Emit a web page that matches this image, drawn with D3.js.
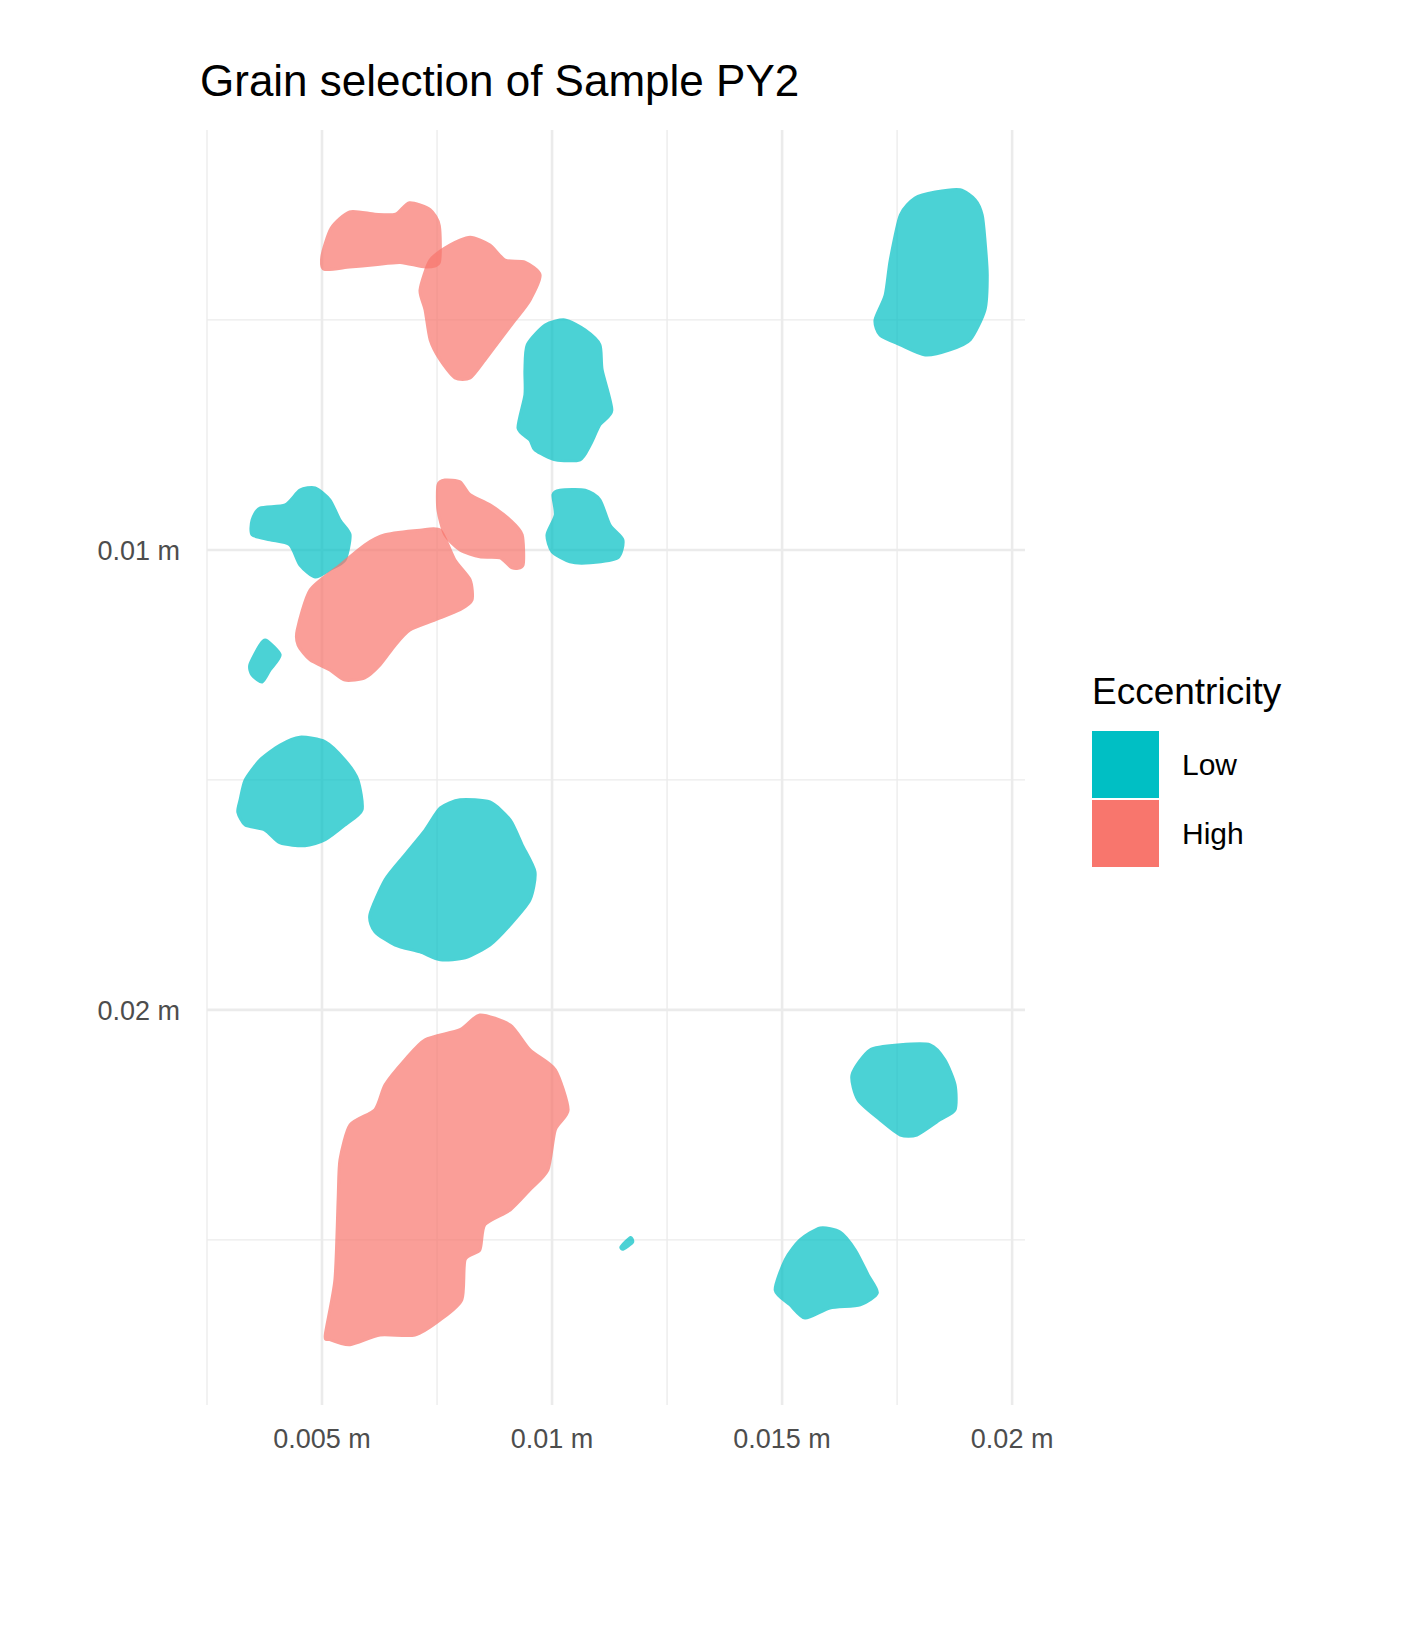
<!DOCTYPE html>
<html>
<head>
<meta charset="utf-8">
<script src="https://cdn.jsdelivr.net/npm/d3@7"></script>
<style>
  body { margin: 0; background: #fff; }
  text { font-family: "Liberation Sans", Arial, sans-serif; }
</style>
</head>
<body>
<script>
// grain outlines, coordinates in mm (x, y)
let grains = [
  { ecc: "High", pts: [[5.0,3.6],[5.2,3.0],[5.6,2.65],[6.15,2.7],[6.6,2.7],[6.9,2.45],[7.35,2.6],[7.55,2.95],[7.55,3.75],[7.25,3.85],[6.7,3.75],[6.15,3.8],[5.6,3.85],[5.05,3.9]] },
  { ecc: "High", pts: [[7.13,4.35],[7.35,3.7],[7.78,3.37],[8.22,3.2],[8.65,3.37],[8.98,3.7],[9.41,3.74],[9.74,4.02],[9.52,4.57],[9.2,5.0],[8.87,5.43],[8.54,5.87],[8.22,6.26],[7.89,6.26],[7.57,5.87],[7.35,5.43],[7.24,4.78]] },
  { ecc: "Low", pts: [[9.46,5.54],[9.85,5.11],[10.28,5.0],[10.72,5.22],[11.04,5.54],[11.09,6.09],[11.3,6.96],[11.04,7.28],[10.83,7.72],[10.61,8.04],[10.07,8.04],[9.63,7.83],[9.52,7.61],[9.26,7.35],[9.41,6.63],[9.41,6.09]] },
  { ecc: "Low", pts: [[17.02,5.0],[17.24,4.46],[17.35,3.7],[17.57,2.72],[17.89,2.35],[18.33,2.22],[18.87,2.17],[19.2,2.39],[19.35,2.72],[19.41,3.26],[19.46,4.02],[19.41,4.78],[19.09,5.43],[18.65,5.65],[18.11,5.76],[17.57,5.54],[17.13,5.33]] },
  { ecc: "Low", pts: [[3.48,9.35],[3.65,9.09],[4.2,9.02],[4.52,8.7],[4.85,8.65],[5.17,8.91],[5.39,9.35],[5.61,9.67],[5.5,10.22],[5.17,10.43],[4.85,10.59],[4.52,10.33],[4.3,9.89],[3.87,9.78],[3.48,9.67]] },
  { ecc: "High", pts: [[7.52,8.59],[7.67,8.48],[8.0,8.52],[8.22,8.8],[8.65,9.02],[9.09,9.35],[9.35,9.67],[9.37,10.33],[9.13,10.39],[8.87,10.17],[8.43,10.15],[8.0,10.0],[7.67,9.67],[7.52,9.13]] },
  { ecc: "Low", pts: [[10.02,8.8],[10.17,8.7],[10.72,8.7],[11.04,8.91],[11.26,9.46],[11.54,9.78],[11.43,10.17],[10.83,10.28],[10.39,10.26],[10.0,10.04],[9.89,9.67],[10.07,9.24]] },
  { ecc: "High", pts: [[4.46,11.74],[4.74,10.87],[5.39,10.33],[5.93,9.89],[6.37,9.67],[7.13,9.57],[7.57,9.57],[7.89,10.22],[8.22,10.65],[8.26,11.09],[8.0,11.3],[7.46,11.52],[6.91,11.74],[6.59,12.07],[6.26,12.5],[5.93,12.78],[5.5,12.83],[5.17,12.61],[4.74,12.39],[4.48,12.07]] },
  { ecc: "Low", pts: [[3.43,12.5],[3.65,12.07],[3.78,11.96],[4.09,12.28],[3.87,12.61],[3.7,12.87],[3.48,12.72]] },
  { ecc: "Low", pts: [[3.22,15.43],[3.33,15.0],[3.65,14.57],[4.09,14.24],[4.52,14.07],[5.07,14.17],[5.5,14.57],[5.78,15.0],[5.87,15.65],[5.5,15.98],[5.07,16.3],[4.63,16.43],[4.09,16.37],[3.76,16.09],[3.33,15.98],[3.17,15.7]] },
  { ecc: "Low", pts: [[6.04,17.93],[6.37,17.17],[6.8,16.63],[7.24,16.09],[7.57,15.61],[8.0,15.43],[8.65,15.48],[9.09,15.87],[9.35,16.41],[9.63,17.0],[9.52,17.61],[9.09,18.15],[8.65,18.59],[8.11,18.87],[7.57,18.91],[7.13,18.74],[6.59,18.59],[6.15,18.3]] },
  { ecc: "High", pts: [[5.07,27.07],[5.28,25.87],[5.35,24.13],[5.39,23.26],[5.61,22.5],[6.15,22.17],[6.37,21.63],[6.8,21.09],[7.24,20.65],[8.0,20.43],[8.43,20.11],[9.09,20.33],[9.52,20.87],[10.07,21.3],[10.35,22.17],[10.07,22.61],[9.91,23.48],[9.52,23.91],[9.09,24.35],[8.54,24.67],[8.43,25.22],[8.11,25.43],[8.04,26.3],[7.57,26.74],[7.02,27.07],[6.26,27.07],[5.61,27.28],[5.17,27.17]] },
  { ecc: "Low", pts: [[11.5,25.15],[11.7,24.95],[11.75,25.05],[11.55,25.2]] },
  { ecc: "Low", pts: [[16.52,21.41],[16.91,20.87],[17.57,20.76],[18.22,20.76],[18.54,21.09],[18.76,21.63],[18.76,22.17],[18.43,22.39],[17.93,22.72],[17.57,22.72],[17.13,22.39],[16.65,21.96]] },
  { ecc: "Low", pts: [[14.85,26.09],[15.07,25.43],[15.39,25.0],[15.83,24.74],[16.26,24.83],[16.59,25.22],[16.87,25.76],[17.07,26.15],[16.7,26.41],[16.04,26.48],[15.5,26.7],[15.17,26.41]] }
];
let categories = ["Low", "High"];
let colors = ["#00BFC4", "#F8766D"];
let xMajor = [5, 10, 15, 20], xMinor = [2.5, 7.5, 12.5, 17.5];
let yMajor = [10, 20], yMinor = [5, 15, 25];

let width = 1424, height = 1644;
let pLeft = 207, pRight = 1025, pTop = 130, pBottom = 1405;

let svg = d3.select("body").append("svg").attr("width", width).attr("height", height);
let x = d3.scaleLinear().domain([2.5, 20.28]).range([pLeft, pRight]);
let y = d3.scaleLinear().domain([0.87, 28.59]).range([pTop, pBottom]);
let color = d3.scaleOrdinal().domain(categories).range(colors);
let fmt = (d) => d / 1000 + " m";

let grid = svg.append("g");
grid.selectAll(".xn").data(xMinor).enter().append("line")
  .attr("x1", x).attr("x2", x).attr("y1", pTop).attr("y2", pBottom)
  .attr("stroke", "#ebebeb").attr("stroke-width", 1.3);
grid.selectAll(".yn").data(yMinor).enter().append("line")
  .attr("y1", y).attr("y2", y).attr("x1", pLeft).attr("x2", pRight)
  .attr("stroke", "#ebebeb").attr("stroke-width", 1.3);
grid.selectAll(".xm").data(xMajor).enter().append("line")
  .attr("x1", x).attr("x2", x).attr("y1", pTop).attr("y2", pBottom)
  .attr("stroke", "#ebebeb").attr("stroke-width", 2.6);
grid.selectAll(".ym").data(yMajor).enter().append("line")
  .attr("y1", y).attr("y2", y).attr("x1", pLeft).attr("x2", pRight)
  .attr("stroke", "#ebebeb").attr("stroke-width", 2.6);

let line = d3.line().x((d) => x(d[0])).y((d) => y(d[1])).curve(d3.curveCardinalClosed.tension(0.3));
svg.append("g").selectAll("path").data(grains).enter().append("path")
  .attr("d", (d) => line(d.pts))
  .attr("fill", (d) => color(d.ecc))
  .attr("stroke", (d) => color(d.ecc))
  .attr("stroke-width", 3)
  .attr("stroke-linejoin", "round")
  .attr("opacity", 0.7);

svg.append("g").selectAll("text").data(xMajor).enter().append("text")
  .attr("x", x).attr("y", 1448).attr("text-anchor", "middle")
  .attr("font-size", 27).attr("fill", "#4d4d4d").text(fmt);
svg.append("g").selectAll("text").data(yMajor).enter().append("text")
  .attr("x", 180).attr("y", (d) => y(d) + 10).attr("text-anchor", "end")
  .attr("font-size", 27).attr("fill", "#4d4d4d").text(fmt);

svg.append("text").attr("x", 200).attr("y", 96).attr("font-size", 44)
  .attr("fill", "#000").text("Grain selection of Sample PY2");

let legend = svg.append("g");
legend.append("text").attr("x", 1092).attr("y", 704).attr("font-size", 37)
  .text("Eccentricity");
let keys = legend.selectAll("g").data(categories).enter().append("g")
  .attr("transform", (d, i) => `translate(1092,${731 + i * 69})`);
keys.append("rect").attr("width", 67).attr("height", 67).attr("fill", (d) => color(d));
keys.append("text").attr("x", 90).attr("y", 44).attr("font-size", 30).text((d) => d);
</script>
</body>
</html>
